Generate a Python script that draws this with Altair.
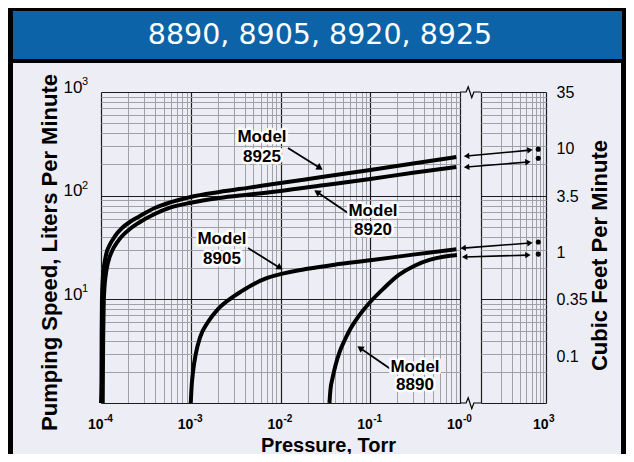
import math
import altair as alt
import pandas as pd

# ---------------- data ----------------
models = ["8890", "8905", "8920", "8925"]

P_8925 = [1.0e-4, 1.0124e-4, 1.0174e-4, 1.0249e-4, 1.0402e-4, 1.0635e-4, 1.1034e-4, 1.1591e-4,
          1.2481e-4, 1.3437e-4, 1.5198e-4, 1.7189e-4, 2.0933e-4, 2.6115e-4, 3.9671e-4, 5.8898e-4,
          1.0e-3, 2.08e-3, 4.5e-3, 1.0e-2, 3.0e-2, 0.1, 0.3, 0.91]
S_8925 = [1.0, 1.67, 5.06, 9.85, 14.4, 18.8, 23.4, 28.6,
          33.4, 37.4, 43.6, 48.8, 55.7, 62.3, 76.0, 86.0,
          97.1, 108.4, 119.6, 132.5, 152.0, 177.0, 204.0, 236.0]

P_8920 = [1.0453e-4, 1.0505e-4, 1.0583e-4, 1.0714e-4, 1.0926e-4, 1.1253e-4, 1.1734e-4, 1.2481e-4,
          1.3437e-4, 1.5198e-4, 1.7189e-4, 2.0933e-4, 2.6115e-4, 3.9671e-4, 5.8898e-4,
          1.0e-3, 2.08e-3, 4.5e-3, 1.0e-2, 3.0e-2, 0.1, 0.3, 0.91]
S_8920 = [1.0, 2.08, 4.53, 8.82, 12.9, 16.8, 21.0, 25.6,
          29.9, 35.7, 40.8, 47.7, 54.5, 66.5, 76.5,
          85.5, 94.9, 102.6, 111.0, 126.0, 145.0, 166.0, 189.0]

P_8905 = [1.0e-3, 1.02e-3, 1.06e-3, 1.14e-3, 1.27e-3, 1.55e-3, 2.0e-3, 2.7e-3, 3.7e-3,
          5.0e-3, 7.0e-3, 1.0e-2, 2.0e-2, 4.0e-2, 0.1, 0.3, 0.91]
S_8905 = [1.0, 1.4, 2.0, 3.0, 4.3, 6.0, 8.0, 10.0, 12.0,
          14.0, 16.0, 17.5, 19.7, 21.6, 23.8, 27.0, 30.4]

P_8890 = [0.0351, 0.0360, 0.0380, 0.0411, 0.0456, 0.0520, 0.0608, 0.0731, 0.100,
          0.1405, 0.2081, 0.3081, 0.4561, 0.6754, 0.9245]
S_8890 = [1.0, 1.34, 1.74, 2.33, 3.11, 4.05, 5.29, 6.75, 9.43,
          12.7, 17.2, 21.0, 24.0, 25.9, 26.8]

# free-air displacement at atmosphere (760 Torr), cubic feet per minute
atm_torr = 760
atm_cfm = [9.92, 8.12, 1.26, 0.964]          # 8925, 8920, 8905, 8890
# double arrows from the curve ends to the atmosphere dots
arr_P0 = [60, 60, 53, 56]
arr_S0 = [241, 189, 31.2, 25.6]
arr_P1 = [567, 528, 567, 528]
arr_S1 = [275, 211, 34.9, 26.7]

# annotation labels ("Model" / number) and their pointer arrows
ann_num = ["8925", "8920", "8905", "8890"]
ann_P = [0.00622, 0.1073, 0.002229, 0.3152]
ann_S_model = [368, 71.1, 38.2, 2.225]
ann_S_num = [236, 46.7, 24.5, 1.491]
ptr_P0 = [0.01212, 0.05651, 0.004343, 0.1747]
ptr_S0 = [288, 68.1, 31.3, 2.082]
ptr_P1 = [0.02755, 0.02551, 0.009872, 0.0769]
ptr_S1 = [185, 108.5, 20.1, 3.394]

# axis ticks
x_major = [1e-4, 1e-3, 1e-2, 1e-1, 1.0]
x_major_exp = ["-4", "-3", "-2", "-1", "-0"]
x_right_major = [1000]
x_right_major_exp = ["3"]
y_major = [10, 100, 1000]
y_major_exp = ["1", "2", "3"]
cfm_ticks = [35, 10, 3.5, 1, 0.35, 0.1]
LPM_PER_CFM = 28.317

x_left_grid = [k * 10.0 ** e for e in range(-4, 0) for k in range(1, 10)] + [1.0]
x_right_grid = [k * 100 for k in range(1, 11)]
y_grid = [k * 10.0 ** e for e in range(0, 3) for k in range(1, 10)] + [1000.0]

title_text = ", ".join(models)

# ---------------- geometry / styles ----------------
W_LEFT, GAP_END, W, H = 359, 380, 445, 311
LAV = "#ededf6"
BLUE = "#0c63a8"
FONT = "Liberation Sans"

x_left = alt.Scale(type="log", domain=[1e-4, 1.0], range=[0, W_LEFT], nice=False)
x_right = alt.Scale(type="log", domain=[100, 1000], range=[GAP_END, W], nice=False)
y_lpm = alt.Scale(type="log", domain=[1, 1000], nice=False)
y_cfm = alt.Scale(type="log", domain=[1 / LPM_PER_CFM, 1000 / LPM_PER_CFM], nice=False)


def px_left(p):
    return (math.log10(p) + 4) / 4 * W_LEFT


def px_right(p):
    return GAP_END + (math.log10(p) - 2) * (W - GAP_END)


def py(s):
    return (3 - math.log10(s)) / 3 * H


def head_angle(x0, y0, x1, y1):
    return math.degrees(math.atan2(x1 - x0, -(y1 - y0))) % 360


def ten_at(vals):
    tests = " || ".join(f"abs(datum.value / {v!r} - 1) < 0.001" for v in vals)
    return f"({tests}) ? '10' : ''"


major_test = "abs(log(datum.value)/LN10 - round(log(datum.value)/LN10)) < 0.001"
grid_color = {"condition": {"test": major_test, "value": "#1c1c1c"}, "value": "#a0a0a6"}
grid_width = {"condition": {"test": major_test, "value": 1.2}, "value": 1}

# ---------------- tables ----------------
curve_rows = []
for name, ps, ss in [("8925", P_8925, S_8925), ("8920", P_8920, S_8920),
                     ("8905", P_8905, S_8905), ("8890", P_8890, S_8890)]:
    for p, s in zip(ps, ss):
        curve_rows.append({"model": name, "P": p, "S": s})
df_curves = pd.DataFrame(curve_rows)

ann_rows = []
for i in range(len(ann_num)):
    ann_rows.append({"text": "Model", "P": ann_P[i], "S": ann_S_model[i]})
    ann_rows.append({"text": ann_num[i], "P": ann_P[i], "S": ann_S_num[i]})
df_ann = pd.DataFrame(ann_rows)

df_ptr = pd.DataFrame({
    "P0": ptr_P0, "S0": ptr_S0, "P1": ptr_P1, "S1": ptr_S1,
    "ang": [head_angle(px_left(a), py(b), px_left(c), py(d))
            for a, b, c, d in zip(ptr_P0, ptr_S0, ptr_P1, ptr_S1)],
})

df_arr = pd.DataFrame({
    "P0": arr_P0, "S0": arr_S0, "P1": arr_P1, "S1": arr_S1,
    "ang0": [head_angle(px_right(c), py(d), px_right(a), py(b))
             for a, b, c, d in zip(arr_P0, arr_S0, arr_P1, arr_S1)],
    "ang1": [head_angle(px_right(a), py(b), px_right(c), py(d))
             for a, b, c, d in zip(arr_P0, arr_S0, arr_P1, arr_S1)],
})

df_dots = pd.DataFrame({"P": [atm_torr] * len(atm_cfm), "cfm": atm_cfm})
df_xexp = pd.DataFrame({"v": x_major, "t": x_major_exp})
df_xrexp = pd.DataFrame({"v": x_right_major, "t": x_right_major_exp})
df_yexp = pd.DataFrame({"v": y_major, "t": y_major_exp})
one = pd.DataFrame({"k": [0]})

# ---------------- decorations ----------------
frame = alt.Chart(one).mark_rect(fill=None, stroke="black", strokeWidth=10).encode(
    x=alt.value(-93), x2=alt.value(525), y=alt.value(-84), y2=alt.value(380))
band = alt.Chart(one).mark_rect(fill="black").encode(
    x=alt.value(-93), x2=alt.value(525), y=alt.value(-84), y2=alt.value(-29))
bar = alt.Chart(one).mark_rect(fill=BLUE).encode(
    x=alt.value(-88), x2=alt.value(521), y=alt.value(-81), y2=alt.value(-33))
title = alt.Chart(one).mark_text(
    text=title_text, color="white", font="DejaVu Sans", fontSize=28.5,
    align="center", baseline="middle").encode(x=alt.value(219), y=alt.value(-57))

# ---------------- curves with main axes ----------------
curves = alt.Chart(df_curves).mark_line(
    color="black", strokeWidth=4, interpolate="monotone").encode(
    x=alt.X("P:Q", scale=x_left, axis=alt.Axis(
        orient="bottom", values=x_left_grid, labelExpr=ten_at(x_major),
        grid=True, gridColor=grid_color, gridWidth=grid_width, ticks=False, domain=False,
        labelFont=FONT, labelFontSize=14, labelFontWeight="bold", labelColor="black",
        labelPadding=14, labelFlush=False, labelOverlap=False, labelAlign="right",
        labelOffset=2, labelBaseline="top",
        title="Pressure, Torr", titleFont=FONT, titleFontSize=20, titleFontWeight="bold",
        titleColor="black", titleX=227, titleY=48, titleAlign="center",
        titleBaseline="alphabetic", titleAngle=0)),
    y=alt.Y("S:Q", scale=y_lpm, axis=alt.Axis(
        orient="left", values=y_grid, labelExpr=ten_at(y_major),
        grid=True, gridColor=grid_color, gridWidth=grid_width, ticks=False, domain=False,
        labelFont=FONT, labelFontSize=17, labelColor="black", labelPadding=19,
        labelBaseline="alphabetic", labelOverlap=False, labelFlush=False,
        title="Pumping Speed, Liters Per Minute", titleFont=FONT, titleFontSize=22,
        titleFontWeight="bold", titleColor="black", titleX=-52, titleY=160,
        titleAngle=270, titleAlign="center", titleBaseline="middle")),
    detail="model:N",
)

# exponents of the power-of-ten tick labels
x_exp = alt.Chart(df_xexp).mark_text(
    font=FONT, fontSize=10, fontWeight="bold", color="black", align="left",
    baseline="top", dx=3).encode(
    x=alt.X("v:Q", scale=x_left, axis=None), y=alt.value(H + 11), text="t:N")
xr_exp = alt.Chart(df_xrexp).mark_text(
    font=FONT, fontSize=10, fontWeight="bold", color="black", align="left",
    baseline="top", dx=3).encode(
    x=alt.X("v:Q", scale=x_right, axis=None), y=alt.value(H + 11), text="t:N")
y_exp = alt.Chart(df_yexp).mark_text(
    font=FONT, fontSize=11, color="black", align="left",
    baseline="alphabetic", dy=-7).encode(
    y=alt.Y("v:Q", scale=y_lpm, axis=None), x=alt.value(-19), text="t:N")

# break marks of the broken axis
zig_path = "M-1,0L-0.42,0L-0.22,-0.5L0.12,0.55L0.32,0L1,0"
zig_top = alt.Chart(one).mark_point(
    shape=zig_path, filled=False, stroke="black", strokeWidth=1.2, size=441, opacity=1).encode(
    x=alt.value(369.5), y=alt.value(0))
zig_bot = alt.Chart(one).mark_point(
    shape=zig_path, filled=False, stroke="black", strokeWidth=1.2, size=441, opacity=1).encode(
    x=alt.value(369.5), y=alt.value(H))

# ---------------- annotations ----------------
ann_enc = dict(x=alt.X("P:Q", scale=x_left, axis=None),
               y=alt.Y("S:Q", scale=y_lpm, axis=None), text="text:N")
ann_halo = alt.Chart(df_ann).mark_text(
    font=FONT, fontSize=17, fontWeight="bold", fill="white", stroke="white",
    strokeWidth=5, strokeJoin="round", baseline="middle").encode(**ann_enc)
ann_text = alt.Chart(df_ann).mark_text(
    font=FONT, fontSize=17, fontWeight="bold", color="black", baseline="middle").encode(**ann_enc)

ptr_lines = alt.Chart(df_ptr).mark_rule(color="black", strokeWidth=1.8).encode(
    x=alt.X("P0:Q", scale=x_left, axis=None), x2="P1:Q",
    y=alt.Y("S0:Q", scale=y_lpm, axis=None), y2="S1:Q")
ptr_heads = alt.Chart(df_ptr).mark_point(
    shape="triangle-up", filled=True, color="black", size=55, opacity=1).encode(
    x=alt.X("P1:Q", scale=x_left, axis=None),
    y=alt.Y("S1:Q", scale=y_lpm, axis=None),
    angle=alt.Angle("ang:Q", scale=None))

# ---------------- right (atmosphere) section ----------------
arr_lines = alt.Chart(df_arr).mark_rule(color="black", strokeWidth=1.6).encode(
    x=alt.X("P0:Q", scale=x_right, axis=alt.Axis(
        orient="bottom", values=x_right_grid, labelExpr=ten_at(x_right_major),
        grid=True, gridColor=grid_color, gridWidth=grid_width, ticks=False, domain=False,
        labelFont=FONT, labelFontSize=14, labelFontWeight="bold", labelColor="black",
        labelPadding=14, labelFlush=False, labelOverlap=False, labelAlign="right",
        labelOffset=2, labelBaseline="top", title=None)),
    x2="P1:Q",
    y=alt.Y("S0:Q", scale=y_lpm, axis=alt.Axis(
        orient="left", values=y_grid, grid=True, gridColor=grid_color,
        gridWidth=grid_width, labels=False, ticks=False, domain=False, title=None)),
    y2="S1:Q")
arr_head0 = alt.Chart(df_arr).mark_point(
    shape="triangle-up", filled=True, color="black", size=40, opacity=1).encode(
    x=alt.X("P0:Q", scale=x_right, axis=None),
    y=alt.Y("S0:Q", scale=y_lpm, axis=None),
    angle=alt.Angle("ang0:Q", scale=None))
arr_head1 = alt.Chart(df_arr).mark_point(
    shape="triangle-up", filled=True, color="black", size=40, opacity=1).encode(
    x=alt.X("P1:Q", scale=x_right, axis=None),
    y=alt.Y("S1:Q", scale=y_lpm, axis=None),
    angle=alt.Angle("ang1:Q", scale=None))

dots = alt.Chart(df_dots).mark_point(
    shape="circle", filled=True, color="black", size=26, opacity=1).encode(
    x=alt.X("P:Q", scale=x_right, axis=None),
    y=alt.Y("cfm:Q", scale=y_cfm, axis=alt.Axis(
        orient="right", values=cfm_ticks, format=".2~f", grid=False, ticks=False,
        domain=False, labelFont=FONT, labelFontSize=16, labelColor="black",
        labelPadding=10, labelOverlap=False, labelFlush=False, labelBaseline="middle",
        title="Cubic Feet Per Minute", titleFont=FONT, titleFontSize=22,
        titleFontWeight="bold", titleColor="black", titleX=53, titleY=163,
        titleAngle=270, titleAlign="center", titleBaseline="middle")),
)

chart = alt.layer(
    frame, band, bar, title,
    curves, arr_lines, x_exp, xr_exp, y_exp, zig_top, zig_bot,
    ptr_lines, ptr_heads, ann_halo, ann_text,
    arr_head0, arr_head1, dots,
).resolve_scale(x="independent", y="independent").properties(
    width=W, height=H, background=LAV,
    autosize=alt.AutoSizeParams(type="none"),
    padding={"left": 93, "top": 84, "right": 80, "bottom": 51},
).configure_view(stroke=None)

chart.save("out.html", embed_options={"renderer": "svg", "actions": False})
